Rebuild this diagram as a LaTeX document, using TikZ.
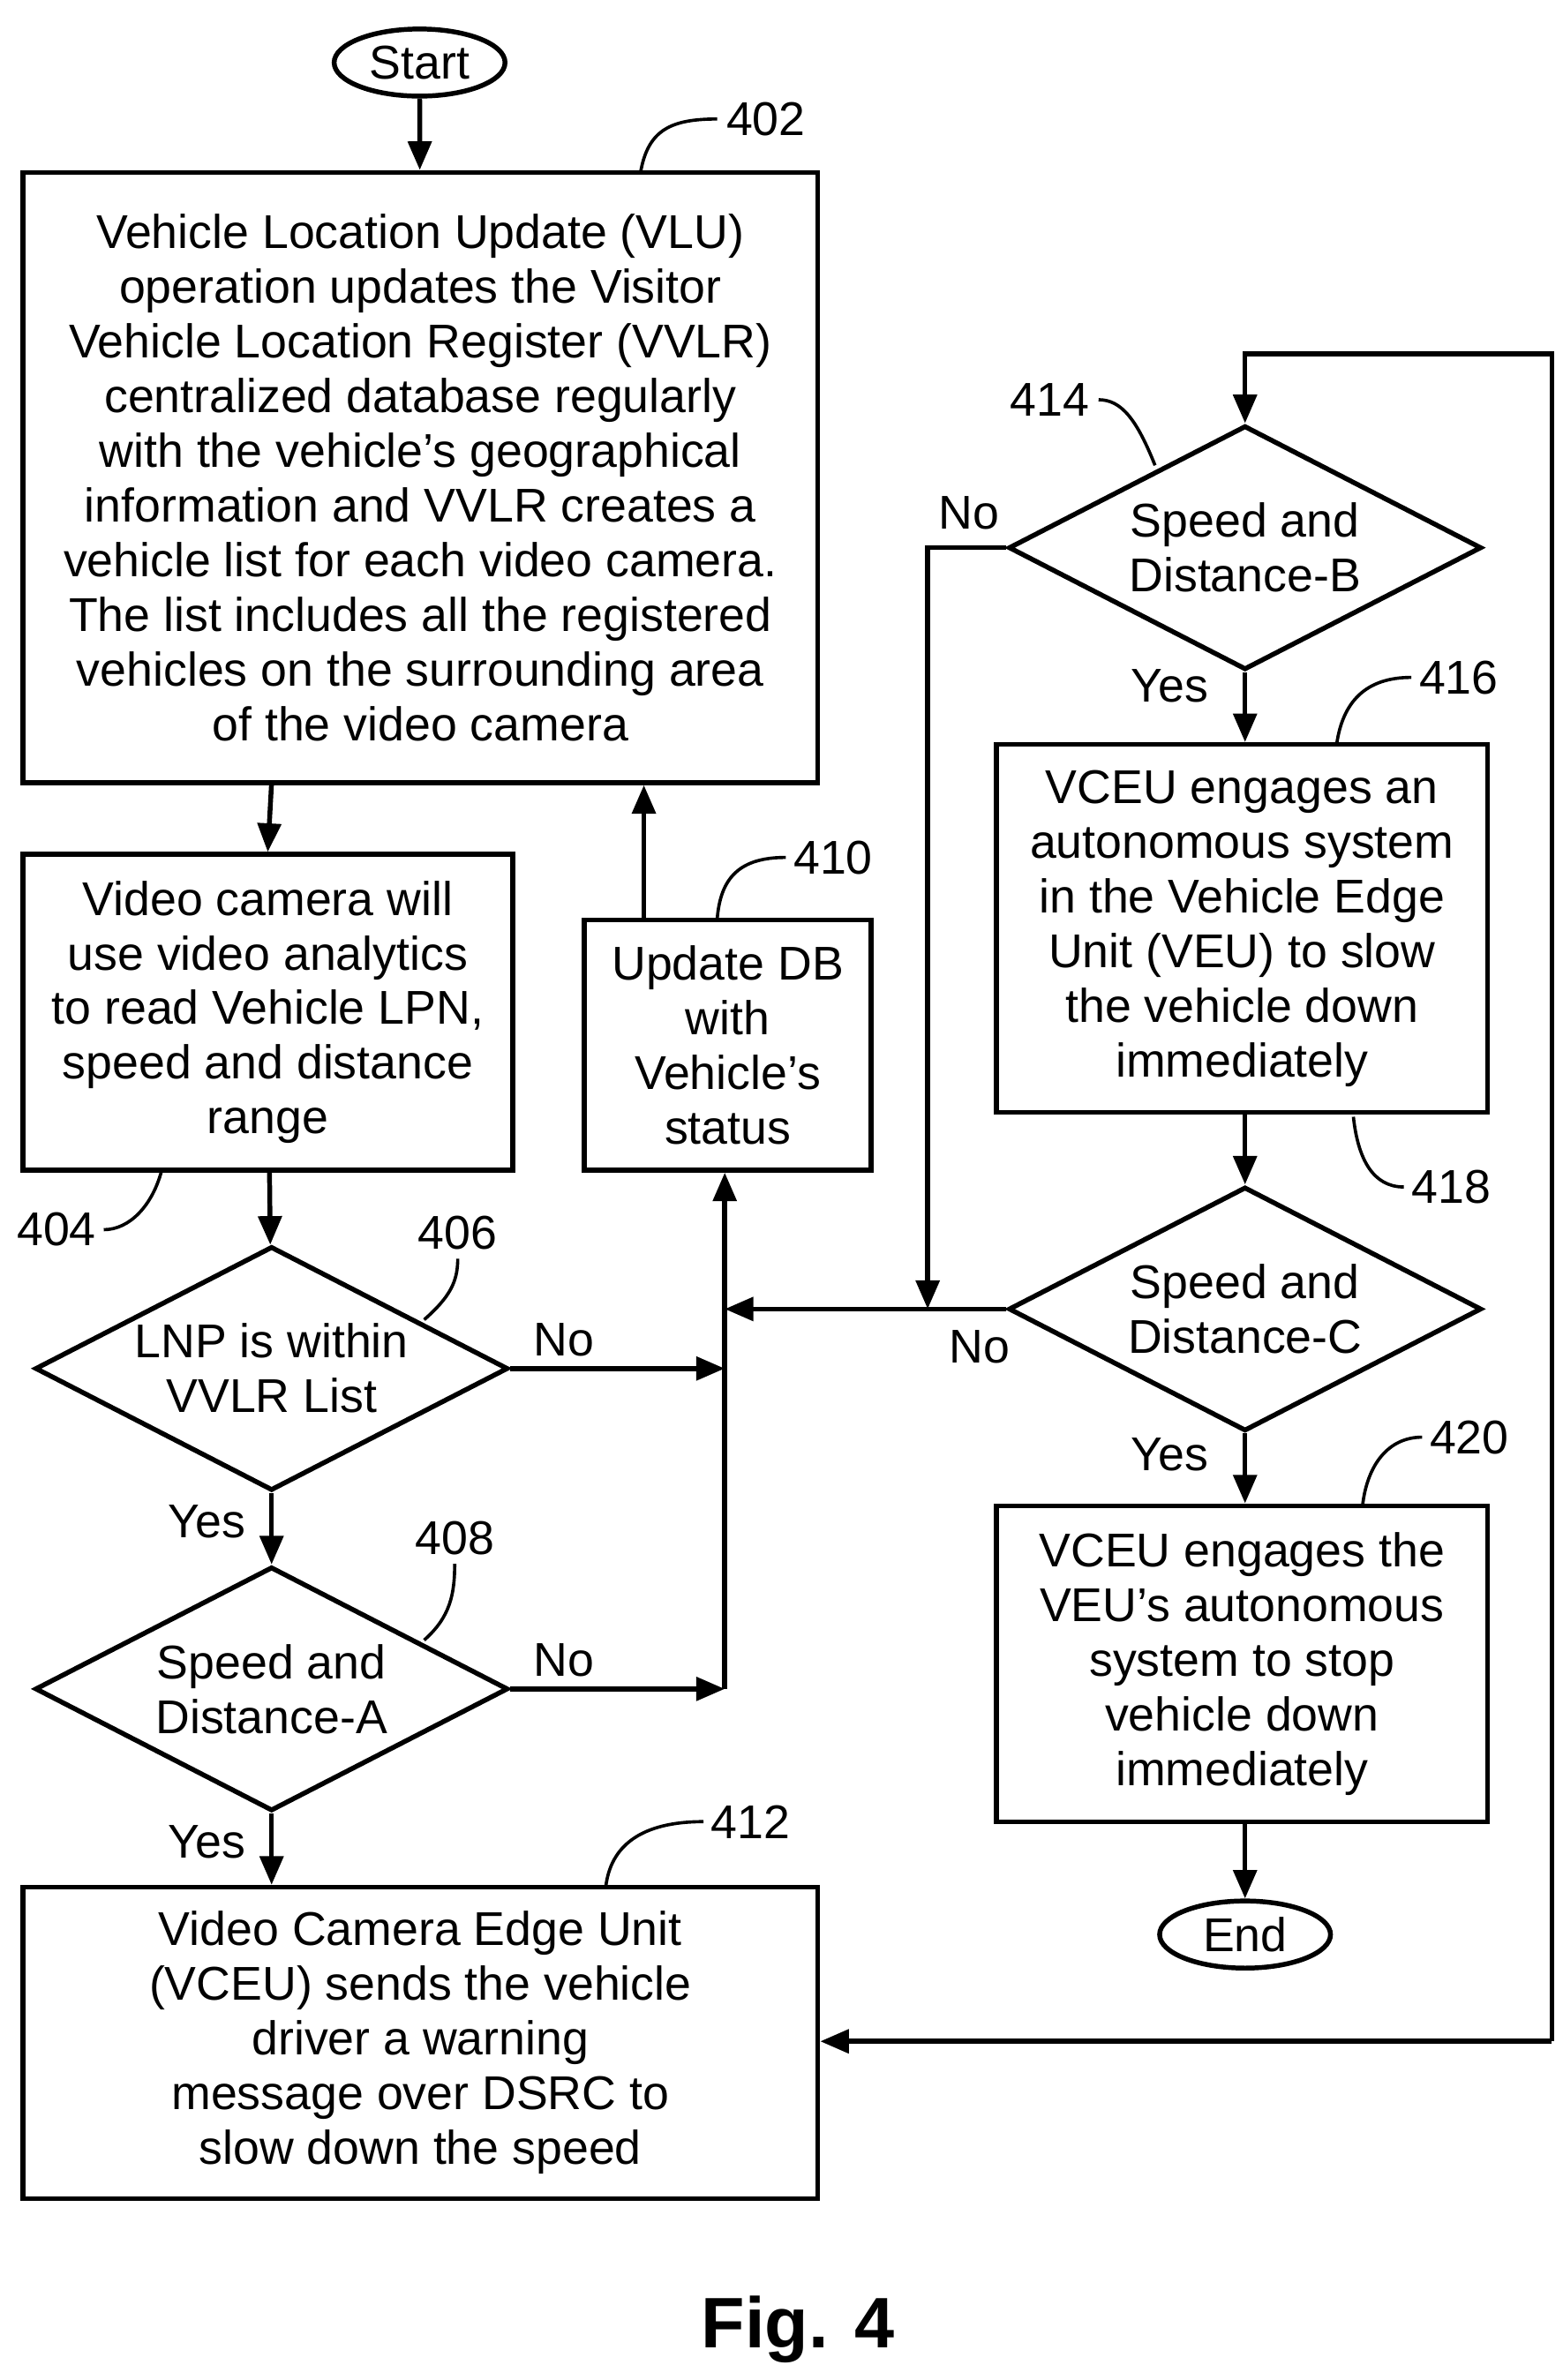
\documentclass[tikz,border=0pt]{standalone}
\usepackage{fontspec}
\setmainfont{Liberation Sans}
\usetikzlibrary{shapes.geometric,arrows.meta}
\newcommand{\ap}{{\char"27}}
\begin{document}
\begin{tikzpicture}[x=0.03cm,y=-0.03cm,
  line width=2.7pt,
  every node/.style={font=\fontsize{26.5}{30.6}\selectfont},
  box/.style={draw,rectangle,inner sep=0,align=center},
  dia/.style={draw,diamond,inner sep=0,align=center,minimum width=310*0.03cm,minimum height=160*0.03cm,aspect=1.94},
  term/.style={draw,ellipse,inner sep=0,minimum width=112*0.03cm,minimum height=44*0.03cm},
  arr/.style={-{Triangle[length=16pt,width=13pt]}},
  lead/.style={line width=1.8pt},
  lbl/.style={inner sep=0}]
\useasboundingbox (0,0) rectangle (1024,1560);
\node[term] (start) at (275,41) {Start};
\node[box,minimum width=521*0.03cm,minimum height=400*0.03cm] (b402) at (275.5,313) {Vehicle Location Update (VLU)\\operation updates the Visitor\\Vehicle Location Register (VVLR)\\centralized database regularly\\with the vehicle\ap s geographical\\information and VVLR creates a\\vehicle list for each video camera.\\The list includes all the registered\\vehicles on the surrounding area\\of the video camera};
\node[box,minimum width=321*0.03cm,minimum height=207*0.03cm] (b404) at (175.5,663.5) {Video camera will\\use video analytics\\to read Vehicle LPN,\\speed and distance\\range};
\node[box,minimum width=188*0.03cm,minimum height=164*0.03cm] (b410) at (477,685) {Update DB\\with\\Vehicle\ap s\\status};
\node[dia] (d406) at (178,897) {LNP is within\\VVLR List};
\node[dia] (d408) at (178,1107) {Speed and\\Distance-A};
\node[box,minimum width=521*0.03cm,minimum height=204*0.03cm] (b412) at (275.5,1339) {Video Camera Edge Unit\\(VCEU) sends the vehicle\\driver a warning\\message over DSRC to\\slow down the speed};
\node[dia] (d414) at (816,359) {Speed and\\Distance-B};
\node[box,minimum width=322*0.03cm,minimum height=241*0.03cm] (b416) at (814,608.5) {VCEU engages an\\autonomous system\\in the Vehicle Edge\\Unit (VEU) to slow\\the vehicle down\\immediately};
\node[dia] (d418) at (816,858) {Speed and\\Distance-C};
\node[box,minimum width=322*0.03cm,minimum height=207*0.03cm] (b420) at (814,1090.5) {VCEU engages the\\VEU\ap s autonomous\\system to stop\\vehicle down\\immediately};
\node[term] (end) at (816,1268) {End};
\node[font=\bfseries\fontsize{40}{44}\selectfont] (fig) at (523,1527) {Fig. 4};
\coordinate (j1) at (475,897);
\coordinate (j2) at (475,1107);
\coordinate (j3) at (475,858);
\coordinate (j4) at (608,858);
\coordinate (t1) at (1017,232);
\coordinate (x422) at (422,0);
\draw[arr] (start) -- (b402);
\draw[arr] (178,513) -- (b404.north);
\draw[arr] (b410.north -| x422) -- (b402.south -| x422);
\draw[arr] (b404) -- (d406);
\draw[arr] (d406) -- node[pos=0.4,left=10pt] {Yes} (d408);
\draw[arr] (d408) -- node[pos=0.4,left=10pt] {Yes} (b412.north -| d408);
\draw[arr] (d406.east) -- node[pos=0.25,above=2pt] {No} (j1);
\draw[arr] (d408.east) -- node[pos=0.25,above=2pt] {No} (j2);
\draw[arr] (j2) -- (b410.south -| j2);
\draw[arr] (d418.west) -- (j3);
\node at (642,883) {No};
\draw[arr] (d414.west) -- (608,359) -- (j4);
\node at (635,336) {No};
\draw[arr] (d414) -- node[pos=0.2,left=16pt] {Yes} (b416.north -| d414);
\draw[arr] (b416.south -| d418) -- (d418);
\draw[arr] (d418) -- node[pos=0.3,left=16pt] {Yes} (b420.north -| d418);
\draw[arr] (b420.south -| end) -- (end);
\draw[arr] (1017,1338) -- (b412.east |- 0,1338);
\draw[arr] (1017,1338) -- (t1) -- (816,232) -- (d414.north);
% reference labels
\draw[lead] (420,112) .. controls (425,85) and (440,78) .. (470,78); \node[lbl] at (502,78) {402};
\draw[lead] (757,305) .. controls (745,275) and (735,262) .. (720,262); \node[lbl] at (688,262) {414};
\draw[lead] (876,488) .. controls (880,460) and (895,444) .. (925,444); \node[lbl] at (956,444) {416};
\draw[lead] (887,732) .. controls (890,760) and (900,778) .. (920,778); \node[lbl] at (951,778) {418};
\draw[lead] (470,603) .. controls (472,575) and (485,562) .. (515,562); \node[lbl] at (546,562) {410};
\draw[lead] (106,767) .. controls (100,790) and (85,806) .. (68,806); \node[lbl] at (37,806) {404};
\draw[lead] (278,865) .. controls (295,850) and (300,840) .. (300,825); \node[lbl] at (300,808) {406};
\draw[lead] (278,1075) .. controls (295,1060) and (298,1045) .. (298,1025); \node[lbl] at (298,1008) {408};
\draw[lead] (397,1237) .. controls (400,1210) and (420,1194) .. (461,1194); \node[lbl] at (492,1194) {412};
\draw[lead] (893,987) .. controls (896,960) and (910,942) .. (932,942); \node[lbl] at (963,942) {420};
\end{tikzpicture}
\end{document}
